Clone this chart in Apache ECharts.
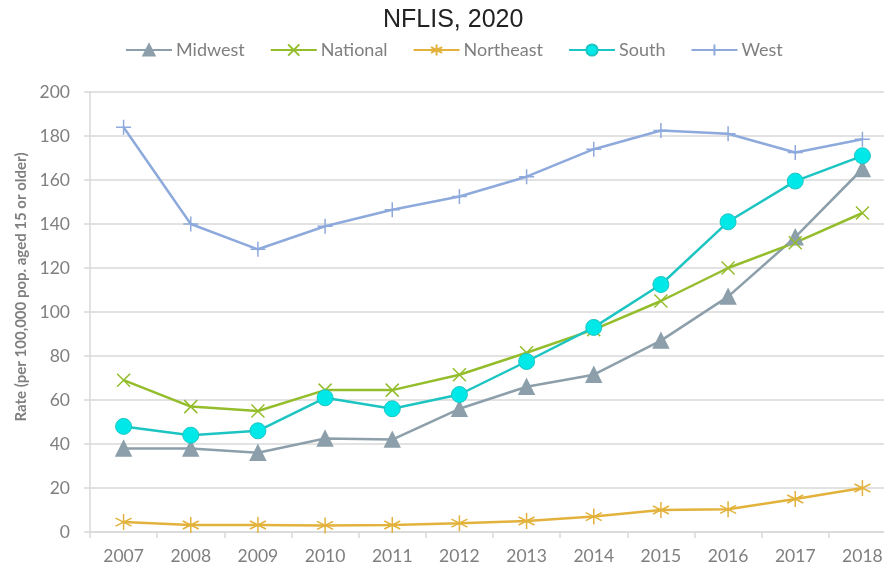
<!DOCTYPE html>
<html><head><meta charset="utf-8">
<script src="https://cdn.jsdelivr.net/npm/echarts@6/dist/echarts.min.js"></script>
<style>html,body{margin:0;padding:0;background:#fff;overflow:hidden}#c{width:896px;height:569px}</style>
</head><body><div id="c"></div>
<script>
const years = ['2007','2008','2009','2010','2011','2012','2013','2014','2015','2016','2017','2018'];
const midwest = [38, 38, 36, 42.5, 42, 56, 66, 71.5, 87, 107, 134, 165];
const national = [69, 57, 55, 64.5, 64.5, 71.5, 81.5, 92, 105, 120, 131.5, 145];
const northeast = [4.5, 3.2, 3.2, 3, 3.2, 4, 5, 7, 10, 10.3, 15, 20];
const south = [48, 44, 46, 61, 56, 62.5, 77.5, 93, 112.5, 141, 159.5, 171];
const west = [184, 140, 128.5, 139, 146.5, 152.5, 161.5, 174, 182.5, 181, 172.5, 178.5];
const yTicks = [0, 20, 40, 60, 80, 100, 120, 140, 160, 180, 200];

const X_PATH = 'path://M0,0L10,10M10,0L0,10';
const STAR_PATH = 'path://M5,0L5,10M0.7,2.5L9.3,7.5M9.3,2.5L0.7,7.5';
const PLUS_PATH = 'path://M0,5L10,5M5,0L5,10';

function mk(name, data, color, symbol, size, extra) {
  return Object.assign({
    name, type: 'line', data, symbol, symbolSize: size,
    lineStyle: {color, width: 2.5},
    itemStyle: {color, borderColor: color, borderWidth: 1.5},
    emphasis: {disabled: true}, animation: false, z: 3
  }, extra || {});
}

const chart = echarts.init(document.getElementById('c'));
chart.setOption({
  animation: false,
  title: {text: 'NFLIS, 2020', left: 378, top: 3,
    textStyle: {fontFamily: 'Liberation Sans', fontSize: 25, fontWeight: 'normal', color: '#222'}},
  legend: {top: 36, left: 120, itemWidth: 46, itemHeight: 14, itemGap: 25,
    textStyle: {fontFamily: 'Lato', fontSize: 18, color: '#7f7f7f', padding: [0, 0, 0, -1]},
    data: ['Midwest', 'National', 'Northeast', 'South', 'West']},
  grid: {left: 90, right: 0, top: 92, bottom: 37, containLabel: false},
  xAxis: {type: 'category', data: years, boundaryGap: true,
    axisLine: {lineStyle: {color: '#d9d9d9', width: 1.5}},
    axisTick: {show: true, length: 6, lineStyle: {color: '#d9d9d9', width: 1.5}},
    axisLabel: {fontFamily: 'Lato', fontSize: 17.5, color: '#7f7f7f', margin: 15},
    splitLine: {show: false}},
  yAxis: {type: 'value', min: yTicks[0], max: yTicks[yTicks.length - 1], interval: 20,
    name: 'Rate (per 100,000 pop. aged 15 or older)', nameLocation: 'middle', nameGap: 55,
    nameTextStyle: {fontFamily: 'Lato', fontSize: 15, fontWeight: 'bold', color: '#7f7f7f', padding: [0, 0, 0, 50]},
    axisLine: {show: true, lineStyle: {color: '#d9d9d9', width: 1.5}},
    axisTick: {show: true, length: 6, inside: false, lineStyle: {color: '#d9d9d9', width: 1.5}},
    axisLabel: {fontFamily: 'Lato', fontSize: 17.5, color: '#7f7f7f', margin: 20},
    splitLine: {lineStyle: {color: '#d9d9d9', width: 1.5}}},
  series: [
    mk('Midwest', midwest, '#8c9faa', 'triangle', 15),
    mk('National', national, '#94bd2c', X_PATH, 13),
    mk('Northeast', northeast, '#e2b23c', STAR_PATH, 16),
    mk('South', south, '#1cc4c2', 'circle', 16, {itemStyle: {color: '#00e8e8', borderColor: '#1cc4c2', borderWidth: 1}}),
    mk('West', west, '#8eaadc', PLUS_PATH, 15)
  ]
});
</script></body></html>
